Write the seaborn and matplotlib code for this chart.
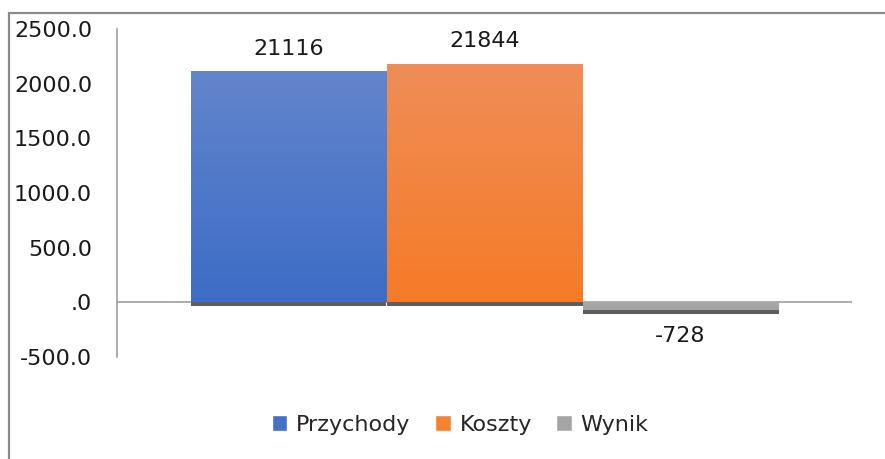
import matplotlib
matplotlib.use("Agg")
import matplotlib.pyplot as plt
import numpy as np
import pandas as pd
import seaborn as sns
from matplotlib.colors import LinearSegmentedColormap
from matplotlib.patches import Rectangle
from matplotlib.transforms import ScaledTranslation

# data
series = ["Przychody", "Koszty", "Wynik"]
values = [2111.6, 2184.4, -72.8]
value_labels = ["21116", "21844", "-728"]
ytick_values = [-500, 0, 500, 1000, 1500, 2000, 2500]
ytick_labels = ["-500.0", ".0", "500.0", "1000.0", "1500.0", "2000.0", "2500.0"]

# colours: legend colour, gradient top, gradient bottom
base_colors = ["#4472C4", "#F4822F", "#A5A5A5"]
grad_top = ["#6385CC", "#EF8D58", "#A8A8A8"]
grad_bottom = ["#3D6CC6", "#F57B27", "#A3A3A3"]

sns.set_theme(style="white")
plt.rcParams["font.family"] = ["DejaVu Sans"]

df = pd.DataFrame({"grupa": [""] * len(series), "seria": series, "wartosc": values})

fig = plt.figure(figsize=(8.85, 4.59), dpi=100)
ax = fig.add_axes([117 / 885, 1 - 357 / 459, (852 - 117) / 885, (357 - 29) / 459])

sns.barplot(
    data=df,
    x="grupa",
    y="wartosc",
    hue="seria",
    palette=base_colors,
    width=0.8,
    dodge=True,
    saturation=1,
    legend=True,
    ax=ax,
    zorder=3,
)

# shadow + gradient fill for every bar
shadow_offset = ScaledTranslation(0, -4 / 100, fig.dpi_scale_trans)
for patch, top, bottom in zip(ax.patches, grad_top, grad_bottom):
    x, y = patch.get_x(), patch.get_y()
    w, h = patch.get_width(), patch.get_height()
    patch.set_edgecolor("none")
    shadow = Rectangle((x, y), w, h, facecolor="#5E5E5E", edgecolor="none",
                       transform=ax.transData + shadow_offset, zorder=2)
    ax.add_patch(shadow)
    y0, y1 = min(y, y + h), max(y, y + h)
    cmap = LinearSegmentedColormap.from_list("g", [bottom, top])
    grad = np.linspace(0, 1, 256).reshape(-1, 1)
    im = ax.imshow(grad, cmap=cmap, extent=(x, x + w, y0, y1), origin="lower",
                   aspect="auto", zorder=4)
    im.set_clip_path(patch)

# data labels
for patch, lab, val in zip(ax.patches, value_labels, values):
    cx = patch.get_x() + patch.get_width() / 2
    if val >= 0:
        ax.annotate(lab, (cx, val), xytext=(0, 9), textcoords="offset points",
                    ha="center", va="bottom", fontsize=16, color="#1a1a1a")
    else:
        ax.annotate(lab, (cx, val), xytext=(0, -11), textcoords="offset points",
                    ha="center", va="top", fontsize=16, color="#1a1a1a")

ax.axhline(0, color="#A0A0A0", lw=1.2, zorder=1)

ax.set_xlim(-0.5, 0.5)
ax.set_ylim(-500, 2500)
ax.set_yticks(ytick_values)
ax.set_yticklabels(ytick_labels)
ax.set_xticks([])
ax.set_xlabel("")
ax.set_ylabel("")
ax.tick_params(axis="y", length=0, pad=18, labelsize=16, labelcolor="#1a1a1a")

for side in ["top", "right", "bottom"]:
    ax.spines[side].set_visible(False)
ax.spines["left"].set_color("#A0A0A0")
ax.spines["left"].set_linewidth(1.2)

sns.move_legend(
    ax, "center", bbox_to_anchor=(0.52, 0.074), bbox_transform=fig.transFigure,
    ncol=3, title=None, frameon=False, fontsize=16, handlelength=0.7,
    handleheight=0.7, columnspacing=1.1, handletextpad=0.4,
)

# outer chart frame (only left and top edges visible)
frame = Rectangle((9 / 885, -0.1), 1.2, 1 - 13 / 459 + 0.1, transform=fig.transFigure,
                  fill=False, edgecolor="#8A8A8A", lw=1.6, clip_on=False)
fig.add_artist(frame)

fig.savefig("out.png", dpi=100)
